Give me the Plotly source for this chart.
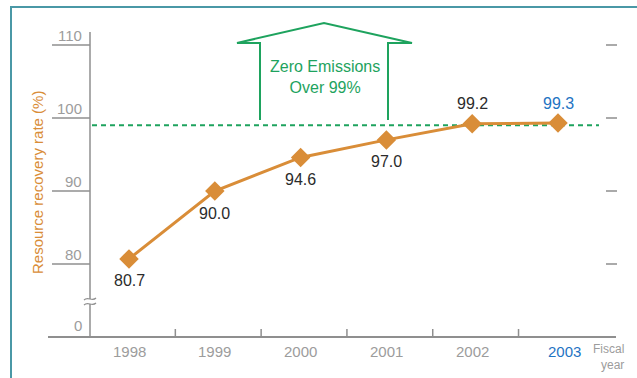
import plotly.graph_objects as go

years = ["1998", "1999", "2000", "2001", "2002", "2003"]
rates = [80.7, 90.0, 94.6, 97.0, 99.2, 99.3]
label_pos = ["below", "below", "below", "below", "above", "above"]
ytick_vals = [80, 90, 100, 110]
ytick_text = ["80", "90", "100", "110"]
target = 99
axis_floor = 70
floor_label = "0"

W, H = 637, 378
L, R, T, B = 90, 21, 32, 41
PW, PH = W - L - R, H - T - B

def px(xp):
    return (xp - L) / PW

def py(yp):
    return (H - B - yp) / PH

ORANGE = "#d98d38"
GREEN = "#1ea35e"
GRAY = "#8f8f8f"
LGRAY = "#9c9c9c"
BLUE = "#1f74c3"
TEAL = "#4a98a6"
FONT = "Liberation Sans, Arial, sans-serif"

xs = list(range(len(years)))

fig = go.Figure()
fig.add_trace(go.Scatter(
    x=xs, y=rates, mode="lines+markers",
    line=dict(color=ORANGE, width=3),
    marker=dict(symbol="diamond", size=15, color=ORANGE),
    hoverinfo="skip", showlegend=False, cliponaxis=False,
))

shapes = []
annotations = []

# frame
shapes.append(dict(type="rect", xref="paper", yref="paper",
                   x0=px(11), x1=px(700), y0=py(7), y1=py(420),
                   line=dict(color=TEAL, width=2), fillcolor="rgba(0,0,0,0)", layer="below"))

# target dashed line
shapes.append(dict(type="line", xref="paper", yref="y", x0=px(92), x1=px(599),
                   y0=target, y1=target, line=dict(color=GREEN, width=2, dash="5px,4px"), layer="below"))

# y axis line
shapes.append(dict(type="line", xref="paper", yref="paper", x0=0, x1=0, y0=0, y1=py(32),
                   line=dict(color=GRAY, width=1.5)))
# x axis line
shapes.append(dict(type="line", xref="paper", yref="paper", x0=px(48), x1=1, y0=0, y1=0,
                   line=dict(color=GRAY, width=2)))

# left tick lines and right dashes
for v, t in zip(ytick_vals, ytick_text):
    shapes.append(dict(type="line", xref="paper", yref="y", x0=px(52), x1=0, y0=v, y1=v,
                       line=dict(color=GRAY, width=1.5)))
    shapes.append(dict(type="line", xref="paper", yref="y", x0=px(606), x1=px(617), y0=v, y1=v,
                       line=dict(color="#aaaaaa", width=2)))
    annotations.append(dict(xref="paper", yref="y", x=px(84), y=v, yshift=10, text=t,
                            showarrow=False, xanchor="right", yanchor="middle",
                            font=dict(family=FONT, size=15, color=LGRAY)))
annotations.append(dict(xref="paper", yref="y", x=px(84), y=axis_floor, yshift=12, text=floor_label,
                        showarrow=False, xanchor="right", yanchor="middle",
                        font=dict(family=FONT, size=15, color=LGRAY)))

# x category separators
for i in range(len(years) - 1):
    shapes.append(dict(type="line", xref="x", yref="paper", x0=i + 0.54, x1=i + 0.54,
                       y0=0, y1=py(329), line=dict(color=GRAY, width=1.5)))

# axis break
shapes.append(dict(type="rect", xref="paper", yref="paper", x0=px(86), x1=px(94),
                   y0=py(304), y1=py(299), line=dict(width=0), fillcolor="white"))
for yy in (299, 304):
    path = "M {a},{b} C {c},{d} {e},{f} {g},{h}".format(
        a=px(84), b=py(yy + 1), c=px(88), d=py(yy - 3), e=px(92), f=py(yy + 3), g=px(96), h=py(yy - 1))
    shapes.append(dict(type="path", xref="paper", yref="paper", path=path,
                       line=dict(color=GRAY, width=1.2)))

# Zero emissions arrow
pts = [(260, 120), (260, 43), (237, 43), (324, 23), (412, 43), (388, 43), (388, 120)]
path = "M " + " L ".join("{},{}".format(px(a), py(b)) for a, b in pts)
shapes.append(dict(type="path", xref="paper", yref="paper", path=path,
                   line=dict(color=GREEN, width=2)))
annotations.append(dict(xref="paper", yref="paper", x=px(325), y=py(77),
                        text="Zero Emissions<br>Over 99%", showarrow=False,
                        xanchor="center", yanchor="middle", align="center",
                        font=dict(family=FONT, size=16, color=GREEN)))

# data labels
for i, (v, pos) in enumerate(zip(rates, label_pos)):
    last = i == len(rates) - 1
    annotations.append(dict(x=i, y=v, text="{:.1f}".format(v), showarrow=False,
                            yshift=-22 if pos == "below" else 20,
                            xanchor="center", yanchor="middle",
                            font=dict(family=FONT, size=16, color=BLUE if last else "#2b2b2b")))

# x labels
for i, yr in enumerate(years):
    last = i == len(years) - 1
    annotations.append(dict(x=i, xref="x", yref="paper", y=0, yshift=-14, text=yr,
                            xshift=6 if last else 0,
                            showarrow=False, xanchor="center", yanchor="middle",
                            font=dict(family=FONT, size=15, color=BLUE if last else LGRAY)))
annotations.append(dict(xref="paper", yref="paper", x=px(626), y=py(357),
                        text="Fiscal<br>year", showarrow=False, xanchor="right",
                        yanchor="middle", align="right",
                        font=dict(family=FONT, size=12, color=LGRAY)))

# y axis title
annotations.append(dict(xref="paper", yref="paper", x=px(38), y=py(183),
                        text="Resource recovery rate (%)", textangle=-90, showarrow=False,
                        xanchor="center", yanchor="middle",
                        font=dict(family=FONT, size=15, color=ORANGE)))

fig.update_layout(
    width=W, height=H,
    margin=dict(l=L, r=R, t=T, b=B),
    paper_bgcolor="white", plot_bgcolor="white",
    xaxis=dict(range=[-(129 - L) / 85.8, (616 - 129) / 85.8], showgrid=False, zeroline=False,
               showticklabels=False, showline=False, ticks=""),
    yaxis=dict(range=[axis_floor, 80 + (264 - 32) / 7.3], showgrid=False, zeroline=False,
               showticklabels=False, showline=False, ticks=""),
    shapes=shapes, annotations=annotations,
    showlegend=False,
)

fig.write_html("out.html")
